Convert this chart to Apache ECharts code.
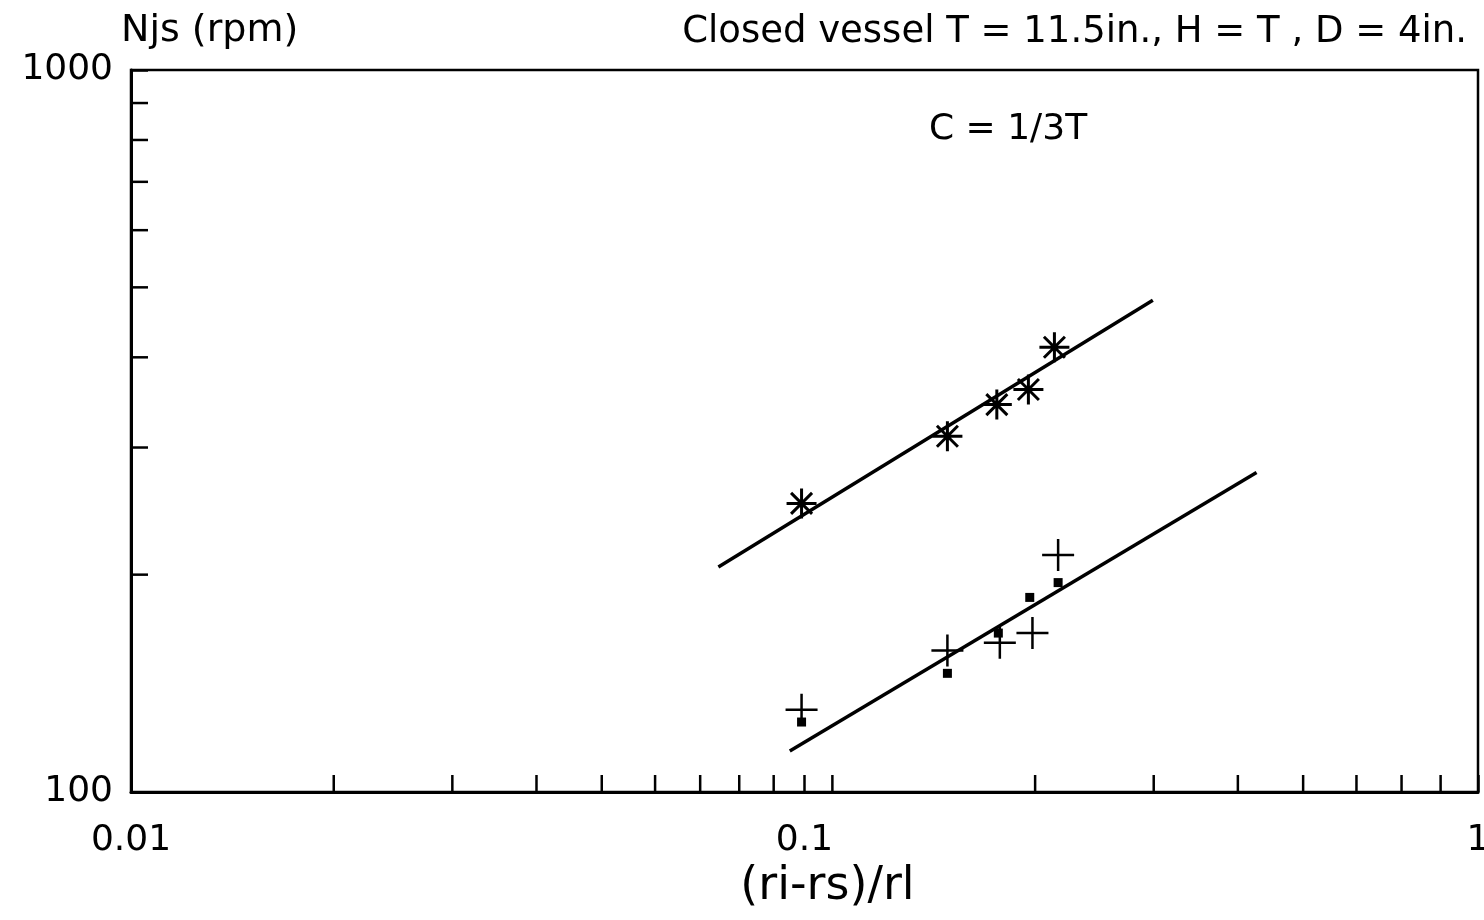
<!DOCTYPE html>
<html>
<head>
<meta charset="utf-8">
<script src="https://cdn.jsdelivr.net/npm/echarts@6/dist/echarts.min.js"></script>
<style>
  html, body { margin: 0; padding: 0; background: #fff; }
  #main { width: 1484px; height: 920px; }
</style>
</head>
<body>
<div id="main"></div>
<script>
// values (log-log)
var xStar = [0.099, 0.163, 0.193, 0.215, 0.235];
var njsStar = [251, 311, 344, 361, 413];
var xPlus = [0.099, 0.163, 0.195, 0.218, 0.238];
var njsPlus = [130, 157, 161, 166, 213];
var xSquare = [0.099, 0.163, 0.194, 0.216, 0.238];
var njsSquare = [125, 146, 166, 186, 195];
var fitUpperX = [0.0745, 0.329];
var fitUpperY = [205, 480];
var fitLowerX = [0.0951, 0.469];
var fitLowerY = [114, 277];
// minor tick positions as drawn by the plotter
var xMinorTicks = [0.02, 0.03, 0.04, 0.05, 0.06, 0.07, 0.08, 0.09, 0.11,
                   0.22, 0.33, 0.44, 0.55, 0.66, 0.77, 0.88];
var yMinorTicks = [200, 300, 400, 500, 600, 700, 800, 900];

function pairs(xs, ys) {
    return xs.map(function (x, i) { return [x, ys[i]]; });
}

var FONT = 'DejaVu Sans';
var starPath = 'path://M10,0L10,20M0,10L20,10M3,3L17,17M17,3L3,17';
var plusPath = 'path://M10,0L10,20M0,10L20,10';

var myChart = echarts.init(document.getElementById('main'));
var option = {
    backgroundColor: '#fff',
    animation: false,
    title: [{
        text: 'Closed vessel T = 11.5in., H = T , D = 4in.',
        right: 12, top: 9,
        textStyle: { fontFamily: FONT, fontSize: 37, fontWeight: 'normal', color: '#000' }
    }, {
        text: 'C = 1/3T',
        left: 924, top: 107,
        textStyle: { fontFamily: FONT, fontSize: 36, fontWeight: 'normal', color: '#000' }
    }],
    grid: {
        left: 131, right: 6, top: 70, bottom: 128,
        containLabel: false, outerBoundsMode: 'none',
        show: true, borderColor: '#000', borderWidth: 2.5
    },
    xAxis: {
        type: 'log', logBase: 10, min: 0.01, max: 1,
        name: '(ri-rs)/rl', nameLocation: 'middle', nameGap: 64,
        nameTextStyle: { fontFamily: FONT, fontSize: 46, color: '#000', padding: [0, 0, 0, 46] },
        axisLine: { lineStyle: { color: '#000', width: 3 } },
        axisTick: { inside: true, length: 17, lineStyle: { color: '#000', width: 2.5 } },
        axisLabel: { fontFamily: FONT, fontSize: 36, color: '#000', margin: 31,
            formatter: function (v) { return String(v); } },
        splitLine: { show: false },
        minorTick: { show: false }
    },
    yAxis: {
        type: 'log', logBase: 10, min: 100, max: 1000,
        name: 'Njs (rpm)', nameLocation: 'end', nameGap: 20,
        nameTextStyle: { fontFamily: FONT, fontSize: 38, color: '#000', align: 'left', padding: [0, 0, 0, -10] },
        axisLine: { lineStyle: { color: '#000', width: 3 } },
        axisTick: { inside: true, length: 17, lineStyle: { color: '#000', width: 2.5 } },
        axisLabel: { fontFamily: FONT, fontSize: 36, color: '#000', margin: 18,
            formatter: function (v) { return String(v); } },
        splitLine: { show: false },
        minorTick: { show: false }
    },
    series: [{
        type: 'scatter', silent: true,
        data: xMinorTicks.map(function (v) { return [v, 100]; }),
        symbol: 'rect', symbolSize: [2.5, 17], symbolOffset: [0, -8.5],
        itemStyle: { color: '#000', opacity: 1 }
    }, {
        type: 'scatter', silent: true,
        data: yMinorTicks.map(function (v) { return [0.01, v]; }),
        symbol: 'rect', symbolSize: [17, 2.5], symbolOffset: [8.5, 0],
        itemStyle: { color: '#000', opacity: 1 }
    }, {
        type: 'line', data: pairs(fitUpperX, fitUpperY), showSymbol: false,
        lineStyle: { color: '#000', width: 3.5 }
    }, {
        type: 'line', data: pairs(fitLowerX, fitLowerY), showSymbol: false,
        lineStyle: { color: '#000', width: 3.5 }
    }, {
        type: 'scatter', data: pairs(xStar, njsStar),
        symbol: starPath, symbolSize: 30,
        itemStyle: { color: '#000', borderColor: '#000', borderWidth: 3, opacity: 1 }
    }, {
        type: 'scatter', data: pairs(xPlus, njsPlus),
        symbol: plusPath, symbolSize: 32,
        itemStyle: { color: '#000', borderColor: '#000', borderWidth: 2.5, opacity: 1 }
    }, {
        type: 'scatter', data: pairs(xSquare, njsSquare),
        symbol: 'rect', symbolSize: 9,
        itemStyle: { color: '#000', opacity: 1 }
    }]
};
myChart.setOption(option);
</script>
</body>
</html>
